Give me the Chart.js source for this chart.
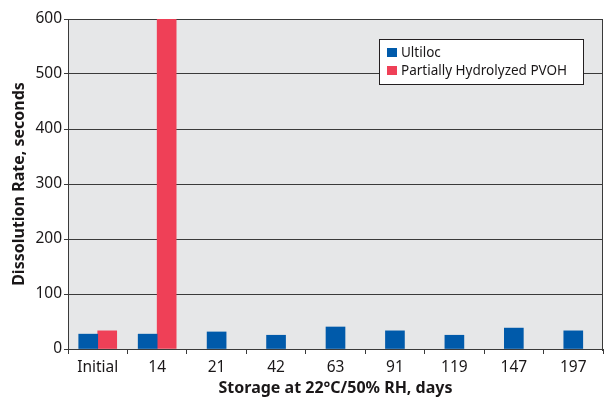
<!DOCTYPE html>
<html>
<head>
<meta charset="utf-8">
<script src="https://cdn.jsdelivr.net/npm/chart.js@4.4.1/dist/chart.umd.min.js"></script>
<style>
  html, body { margin: 0; padding: 0; background: #fff; }
  #wrap { width: 607px; height: 400px; position: relative; }
</style>
</head>
<body>
<div id="wrap"><canvas id="chart"></canvas></div>
<script>
// data
const categories = ['Initial', '14', '21', '42', '63', '91', '119', '147', '197'];
const ultilocValues = [27, 27, 31, 25, 40, 33, 25, 38, 33];
const pvohValues = [33, 600, null, null, null, null, null, null, null];
const yTicks = [0, 100, 200, 300, 400, 500, 600];

const textColor = '#1a1718';
const fontFamily = '"Noto Sans", "Open Sans", sans-serif';

// grey plot background + right border
const plotBackground = {
    id: 'plotBackground',
    beforeDraw(chart) {
        const { ctx, chartArea: a } = chart;
        ctx.save();
        ctx.fillStyle = '#e6e7e8';
        ctx.fillRect(a.left, a.top, a.right - a.left, a.bottom - a.top);
        ctx.restore();
    },
    afterDraw(chart) {
        const { ctx, chartArea: a } = chart;
        ctx.save();
        ctx.strokeStyle = '#3a3a3a';
        ctx.lineWidth = 1;
        ctx.beginPath();
        ctx.moveTo(Math.round(a.right) - 0.5, a.top);
        ctx.lineTo(Math.round(a.right) - 0.5, a.bottom + 2);
        ctx.stroke();
        ctx.restore();
    }
};

// boxed legend inside the plot, top right
const boxLegend = {
    id: 'boxLegend',
    afterDraw(chart) {
        const { ctx, chartArea: a } = chart;
        const x = a.right - 224, y = a.top + 20, w = 204, h = 45;
        ctx.save();
        ctx.fillStyle = '#fff';
        ctx.fillRect(x, y, w, h);
        ctx.strokeStyle = '#231f20';
        ctx.lineWidth = 1;
        ctx.strokeRect(x + 0.5, y + 0.5, w, h);
        ctx.font = '13.5px ' + fontFamily;
        ctx.textBaseline = 'middle';
        chart.data.datasets.forEach((ds, i) => {
            const rowY = y + 14 + i * 18;
            ctx.fillStyle = ds.backgroundColor;
            ctx.fillRect(x + 8, rowY - 5, 10, 9);
            ctx.fillStyle = textColor;
            ctx.fillText(ds.label, x + 22, rowY);
        });
        ctx.restore();
    }
};

new Chart(document.getElementById('chart'), {
    type: 'bar',
    data: {
        labels: categories,
        datasets: [{
            label: 'Ultiloc',
            data: ultilocValues,
            backgroundColor: '#005aaa'
        }, {
            label: 'Partially Hydrolyzed PVOH',
            data: pvohValues,
            backgroundColor: '#ef4057'
        }]
    },
    options: {
        responsive: true,
        maintainAspectRatio: false,
        animation: false,
        skipNull: true,
        barThickness: 19,
        layout: { padding: { top: 19, right: 4, left: 0, bottom: 0 } },
        plugins: {
            legend: { display: false },
            tooltip: { enabled: false }
        },
        scales: {
            x: {
                grid: {
                    offset: true,
                    drawOnChartArea: false,
                    drawTicks: true,
                    tickLength: 5,
                    color: '#3a3a3a'
                },
                border: { color: '#3a3a3a', width: 1 },
                ticks: {
                    color: textColor,
                    font: { family: fontFamily, size: 15.5 },
                    padding: 4,
                    maxRotation: 0
                },
                title: {
                    display: true,
                    text: 'Storage at 22°C/50% RH, days',
                    color: textColor,
                    font: { family: fontFamily, size: 16, weight: 'bold' },
                    padding: { top: 0, bottom: 2 }
                },
                afterFit(scale) { scale.height = 51; }
            },
            y: {
                min: 0,
                max: 600,
                afterBuildTicks(scale) {
                    scale.ticks = yTicks.map(v => ({ value: v }));
                },
                grid: {
                    color: '#3a3a3a',
                    drawTicks: true,
                    tickLength: 4
                },
                border: { color: '#3a3a3a', width: 1 },
                ticks: {
                    color: textColor,
                    font: { family: fontFamily, size: 15.5 },
                    padding: 2
                },
                title: {
                    display: true,
                    text: 'Dissolution Rate, seconds',
                    color: textColor,
                    font: { family: fontFamily, size: 16, weight: 'bold' },
                    padding: { top: 10, bottom: 0 }
                },
                afterFit(scale) { scale.width = 68; }
            }
        }
    },
    plugins: [plotBackground, boxLegend]
});
</script>
</body>
</html>
